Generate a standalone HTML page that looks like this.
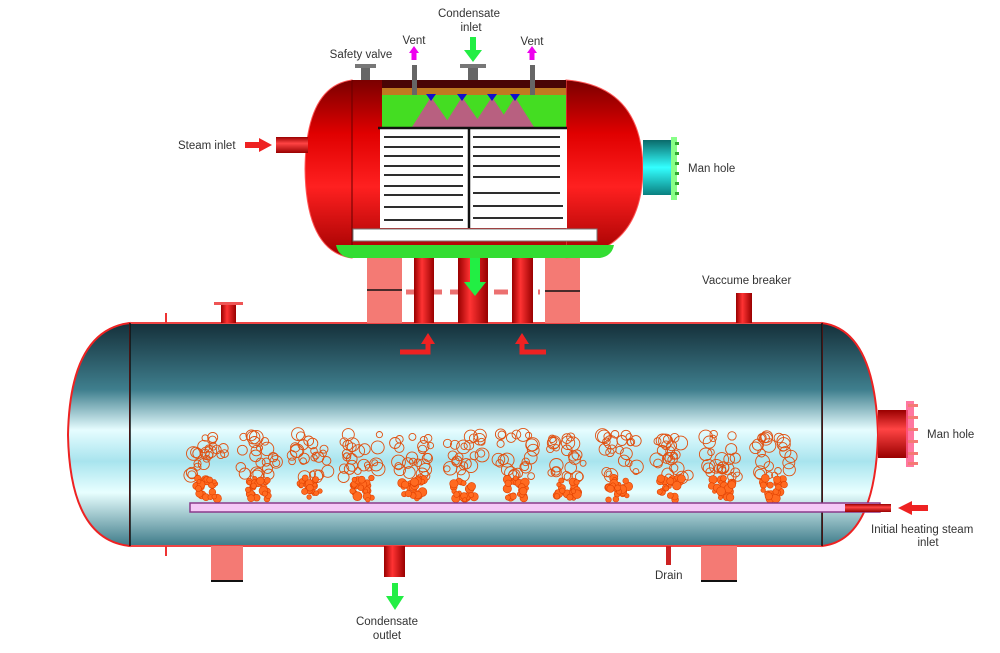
<!DOCTYPE html>
<html><head><meta charset="utf-8"><style>
html,body{margin:0;padding:0;background:#fff;width:1000px;height:653px;overflow:hidden}
svg text{font-family:"Liberation Sans",sans-serif;font-size:11.5px;fill:#333}
</style></head><body>
<svg id="s" width="1000" height="653" viewBox="0 0 1000 653" xmlns="http://www.w3.org/2000/svg">
<defs>
<linearGradient id="teal" x1="0" y1="0" x2="0" y2="1">
<stop offset="0" stop-color="#15303a"/><stop offset="0.3" stop-color="#3f7f8e"/>
<stop offset="0.48" stop-color="#e6fdff"/><stop offset="0.62" stop-color="#a8e4ee"/>
<stop offset="0.76" stop-color="#e8ffff"/><stop offset="1" stop-color="#3d7a88"/></linearGradient>
<linearGradient id="red" x1="0" y1="0" x2="0" y2="1">
<stop offset="0" stop-color="#7a0000"/><stop offset="0.3" stop-color="#e00000"/>
<stop offset="0.6" stop-color="#ff2020"/><stop offset="1" stop-color="#a00000"/></linearGradient>
<linearGradient id="pipeV" x1="0" y1="0" x2="1" y2="0">
<stop offset="0" stop-color="#900"/><stop offset="0.4" stop-color="#f33"/><stop offset="1" stop-color="#900"/></linearGradient>
<linearGradient id="pipeH" x1="0" y1="0" x2="0" y2="1">
<stop offset="0" stop-color="#900"/><stop offset="0.4" stop-color="#f44"/><stop offset="1" stop-color="#900"/></linearGradient>
<linearGradient id="cyan" x1="0" y1="0" x2="0" y2="1">
<stop offset="0" stop-color="#0a6a6a"/><stop offset="0.5" stop-color="#3ff"/><stop offset="1" stop-color="#0a8080"/></linearGradient>
</defs>

<path d="M130,323 Q70,330 68,435 Q70,540 130,546 Z" fill="url(#teal)" stroke="#e22" stroke-width="2"/>
<path d="M822,323 Q875,330 878,435 Q875,540 822,546 Z" fill="url(#teal)" stroke="#e22" stroke-width="2"/>
<rect x="130" y="323" width="692" height="223" fill="url(#teal)"/>
<line x1="130" y1="323" x2="822" y2="323" stroke="#e44" stroke-width="2"/>
<line x1="130" y1="546" x2="822" y2="546" stroke="#e44" stroke-width="2"/>
<line x1="130" y1="323" x2="130" y2="546" stroke="#111" stroke-width="1.5"/>
<line x1="822" y1="323" x2="822" y2="546" stroke="#111" stroke-width="1.5"/>

<rect x="221" y="305" width="15" height="18" fill="url(#pipeV)"/><rect x="214" y="302" width="29" height="3" fill="#e55"/>
<rect x="165" y="313" width="2" height="10" fill="#e33"/>
<rect x="165" y="546" width="2" height="10" fill="#e33"/>
<rect x="736" y="293" width="16" height="30" fill="url(#pipeV)"/>
<rect x="211" y="546" width="32" height="35" fill="#f47a74"/><line x1="211" y1="581" x2="243" y2="581" stroke="#111" stroke-width="2"/>
<rect x="701" y="546" width="36" height="35" fill="#f47a74"/><line x1="701" y1="581" x2="737" y2="581" stroke="#111" stroke-width="2"/>
<rect x="384" y="546" width="21" height="31" fill="url(#pipeV)"/>
<rect x="666" y="546" width="5" height="19" fill="#c22"/>
<rect x="878" y="410" width="30" height="48" fill="url(#pipeH)"/>
<rect x="906" y="401" width="8" height="66" fill="#f58" opacity="0.8"/>
<g fill="#f47a74"><rect x="908" y="404" width="10" height="3"/><rect x="908" y="416" width="10" height="3"/><rect x="908" y="428" width="10" height="3"/><rect x="908" y="440" width="10" height="3"/><rect x="908" y="452" width="10" height="3"/><rect x="908" y="462" width="10" height="3"/></g>

<g id="bub"></g>
<rect x="190" y="503" width="690" height="9" fill="#f6c8f6" stroke="#8a3a8a" stroke-width="1.5"/>
<rect x="845" y="504" width="46" height="8" fill="url(#pipeH)"/>
<polygon points="898,508 912,501 912,505 928,505 928,511 912,511 912,515" fill="#e22"/>

<rect x="367" y="258" width="35" height="65" fill="#f47a74"/><line x1="367" y1="290" x2="402" y2="290" stroke="#111" stroke-width="1.5"/>
<rect x="545" y="258" width="35" height="65" fill="#f47a74"/><line x1="545" y1="291" x2="580" y2="291" stroke="#111" stroke-width="1.5"/>
<line x1="406" y1="292" x2="540" y2="292" stroke="#ec7070" stroke-width="5" stroke-dasharray="14,8"/>
<rect x="414" y="258" width="20" height="65" fill="url(#pipeV)"/>
<rect x="458" y="258" width="30" height="65" fill="url(#pipeV)"/>
<rect x="512" y="258" width="21" height="65" fill="url(#pipeV)"/>
<polygon points="470,258 480,258 480,282 486,282 475,296 464,282 470,282" fill="#2e4"/>
<path d="M400,352 L428,352 L428,343" fill="none" stroke="#e22" stroke-width="5"/>
<polygon points="421,344 428,333 435,344" fill="#e22"/>
<path d="M546,352 L522,352 L522,343" fill="none" stroke="#e22" stroke-width="5"/>
<polygon points="515,344 522,333 529,344" fill="#e22"/>

<path d="M352,80 Q306,86 305,169 Q306,252 352,258 Z" fill="url(#red)" stroke="#f55" stroke-width="1"/>
<path d="M566,80 Q642,86 643,169 Q642,252 566,258 Z" fill="url(#red)" stroke="#f55" stroke-width="1"/>
<rect x="352" y="80" width="214" height="178" fill="url(#red)"/>
<line x1="352" y1="80" x2="352" y2="258" stroke="#600" stroke-width="1"/>
<rect x="382" y="80" width="184" height="9" fill="#4a0505"/>
<rect x="382" y="88" width="184" height="7" fill="#c07a20"/>
<rect x="382" y="95" width="184" height="33" fill="#44dd22"/>
<g fill="#b86080">
<polygon points="412,127 431,97 452,127"/><polygon points="443,127 462,97 483,127"/>
<polygon points="472,127 492,97 512,127"/><polygon points="496,127 515,97 534,127"/></g>
<g fill="#11c"><polygon points="426,94 436,94 431,101"/><polygon points="457,94 467,94 462,101"/><polygon points="487,94 497,94 492,101"/><polygon points="510,94 520,94 515,101"/></g>
<rect x="380" y="128" width="187" height="100" fill="#fff"/>
<line x1="378" y1="128" x2="567" y2="128" stroke="#111" stroke-width="2.5"/>
<line x1="469" y1="128" x2="469" y2="228" stroke="#111" stroke-width="2.5"/>
<g stroke="#111" stroke-width="1.8">
<line x1="384" y1="137" x2="463" y2="137"/><line x1="384" y1="147" x2="463" y2="147"/><line x1="384" y1="156" x2="463" y2="156"/><line x1="384" y1="166" x2="463" y2="166"/><line x1="384" y1="175" x2="463" y2="175"/><line x1="384" y1="186" x2="463" y2="186"/><line x1="384" y1="195" x2="463" y2="195"/><line x1="384" y1="207" x2="463" y2="207"/><line x1="384" y1="220" x2="463" y2="220"/>
<line x1="473" y1="137" x2="560" y2="137"/><line x1="473" y1="147" x2="560" y2="147"/><line x1="473" y1="156" x2="560" y2="156"/><line x1="473" y1="166" x2="560" y2="166"/><line x1="473" y1="177" x2="560" y2="177"/><line x1="473" y1="193" x2="560" y2="193"/><line x1="473" y1="206" x2="563" y2="206"/><line x1="473" y1="218" x2="563" y2="218"/></g>
<rect x="353" y="229" width="244" height="12" fill="#fff" stroke="#777" stroke-width="1"/>
<path d="M336,245 L614,245 Q612,256 600,258 L350,258 Q338,256 336,245 Z" fill="#33dd33"/>
<rect x="361" y="68" width="9" height="12" fill="#666"/><rect x="355" y="64" width="21" height="4" fill="#777"/>
<rect x="412" y="65" width="5" height="30" fill="#666"/>
<rect x="530" y="65" width="5" height="30" fill="#666"/>
<rect x="468" y="68" width="10" height="12" fill="#666"/><rect x="460" y="64" width="26" height="4" fill="#777"/>
<polygon points="414,46 419,53 416.5,53 416.5,60 411.5,60 411.5,53 409,53" fill="#e0e"/>
<polygon points="532,46 537,53 534.5,53 534.5,60 529.5,60 529.5,53 527,53" fill="#e0e"/>
<polygon points="470,37 476,37 476,50 482,50 473,62 464,50 470,50" fill="#2e4"/>
<rect x="276" y="137" width="32" height="16" fill="url(#pipeH)"/>
<polygon points="272,145 259,138 259,142 245,142 245,148 259,148 259,152" fill="#e22"/>
<rect x="643" y="140" width="30" height="55" fill="url(#cyan)"/>
<rect x="671" y="137" width="6" height="63" fill="#8f8"/>
<g fill="#3a3"><rect x="675" y="142" width="4" height="3"/><rect x="675" y="152" width="4" height="3"/><rect x="675" y="162" width="4" height="3"/><rect x="675" y="172" width="4" height="3"/><rect x="675" y="182" width="4" height="3"/><rect x="675" y="192" width="4" height="3"/></g>
<polygon points="392,583 398,583 398,596 404,596 395,610 386,596 392,596" fill="#2e4"/>

<text x="469" y="17" text-anchor="middle">Condensate</text>
<text x="471" y="31" text-anchor="middle">inlet</text>
<text x="414" y="44" text-anchor="middle">Vent</text>
<text x="532" y="45" text-anchor="middle">Vent</text>
<text x="361" y="58" text-anchor="middle">Safety valve</text>
<text x="178" y="149">Steam inlet</text>
<text x="688" y="172">Man hole</text>
<text x="702" y="284">Vaccume breaker</text>
<text x="927" y="438">Man hole</text>
<text x="871" y="533">Initial heating steam</text>
<text x="928" y="546" text-anchor="middle">inlet</text>
<text x="655" y="579">Drain</text>
<text x="387" y="625" text-anchor="middle">Condensate</text>
<text x="387" y="639" text-anchor="middle">outlet</text>
</svg>
<script>
(function(){
var g=document.getElementById('bub'),seed=7;
function r(){seed=(seed*9301+49297)%233280;return seed/233280;}
var out='';
for(var k=0;k<12;k++){var cx=207+k*51.5;
 for(var i=0;i<24;i++){var x=cx+(r()-0.5)*36,y=434+r()*44,rad=3+r()*4;
  out+='<circle cx="'+x.toFixed(1)+'" cy="'+y.toFixed(1)+'" r="'+rad.toFixed(1)+'" fill="none" stroke="#e05010" stroke-width="0.9"/>';}
 for(var j=0;j<22;j++){var x=cx+(r()-0.5)*22,y=478+r()*22,rad=2+r()*2.5;
  out+='<circle cx="'+x.toFixed(1)+'" cy="'+y.toFixed(1)+'" r="'+rad.toFixed(1)+'" fill="#ff6a20" stroke="#e04000" stroke-width="0.6"/>';}
}
g.innerHTML=out;})();
</script>
</body></html>
